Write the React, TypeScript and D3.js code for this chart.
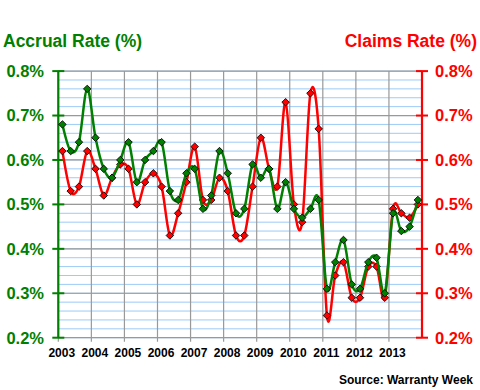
import React from "react";
import * as d3 from "d3";

// quarterly values, 2003 Q1 .. 2013 Q4
const years = [2003, 2004, 2005, 2006, 2007, 2008, 2009, 2010, 2011, 2012, 2013];
const accrualRate = [
  0.68, 0.62, 0.64, 0.76,
  0.65, 0.58, 0.56, 0.60,
  0.64, 0.55, 0.60, 0.62,
  0.64, 0.53, 0.51, 0.57,
  0.58, 0.49, 0.52, 0.62,
  0.57, 0.48, 0.49, 0.59,
  0.56, 0.58, 0.49, 0.55,
  0.49, 0.47, 0.49, 0.51,
  0.31, 0.37, 0.42, 0.32,
  0.31, 0.37, 0.38, 0.30,
  0.48, 0.44, 0.45, 0.51,
];
const claimsRate = [
  0.62, 0.53, 0.54, 0.62,
  0.58, 0.52, 0.56, 0.59,
  0.58, 0.50, 0.55, 0.57,
  0.54, 0.43, 0.48, 0.55,
  0.63, 0.51, 0.51, 0.56,
  0.53, 0.43, 0.43, 0.54,
  0.65, 0.58, 0.54, 0.73,
  0.50, 0.46, 0.75, 0.67,
  0.25, 0.34, 0.37, 0.29,
  0.29, 0.36, 0.36, 0.29,
  0.49, 0.48, 0.47, 0.50,
];
const yTicks = [0.2, 0.3, 0.4, 0.5, 0.6, 0.7, 0.8];

const GREEN = "#008000";
const RED = "#ff0000";
const FONT = "'Liberation Sans', Arial, sans-serif";

const App = () => {
  const x = d3.scaleLinear().domain([2003, 2014]).range([58.3, 422]);
  const y = d3.scaleLinear().domain([0.2, 0.8]).range([337.7, 71.1]);

  const quarterX = (i: number) => x(years[0] + (i + 0.5) / 4);

  const line = d3
    .line<number>()
    .x((_, i) => quarterX(i))
    .y((d) => y(d))
    .curve(d3.curveCardinal.tension(0));

  const diamond = d3.symbol(d3.symbolSquare, 28)() as string;
  const minorTicks = d3.range(0.2, 0.8001, 0.02);
  const [x0, x1] = x.range();
  const [yb, yt] = y.range();

  const markers = (data: number[], color: string) =>
    data.map((d, i) => (
      <path
        key={i}
        d={diamond}
        transform={`translate(${quarterX(i)},${y(d)}) rotate(45)`}
        fill={color}
        stroke="#000"
        strokeWidth={0.8}
      />
    ));

  return (
    <svg
      width={480}
      height={390}
      style={{ position: "absolute", left: 0, top: 0, background: "#fff" }}
      fontFamily={FONT}
      fontWeight="bold"
    >
      {/* grid */}
      {minorTicks.map((t, i) => (
        <line key={"m" + i} x1={x0} x2={x1} y1={y(t)} y2={y(t)} stroke="#9ccbf7" strokeWidth={1} />
      ))}
      {yTicks.map((t) => (
        <line key={"g" + t} x1={x0} x2={x1} y1={y(t)} y2={y(t)} stroke="#999" strokeWidth={1.2} />
      ))}
      {years.map((yr) => (
        <line key={"v" + yr} x1={x(yr)} x2={x(yr)} y1={yt} y2={yb + 4} stroke="#999" strokeWidth={1.2} />
      ))}

      {/* left axis */}
      <line x1={x0} x2={x0} y1={yt} y2={yb} stroke={GREEN} strokeWidth={2.2} />
      {yTicks.map((t) => (
        <g key={"l" + t}>
          <line x1={x0 - 6} x2={x0 + 6} y1={y(t)} y2={y(t)} stroke={GREEN} strokeWidth={2} />
          <text x={44} y={y(t)} dy="0.36em" textAnchor="end" fill={GREEN} fontSize={16.5}>
            {d3.format(".1f")(t) + "%"}
          </text>
        </g>
      ))}

      {/* right axis */}
      <line x1={x1} x2={x1} y1={yt} y2={yb} stroke={RED} strokeWidth={2.2} />
      {yTicks.map((t) => (
        <g key={"r" + t}>
          <line x1={x1 - 6} x2={x1 + 6} y1={y(t)} y2={y(t)} stroke={RED} strokeWidth={2} />
          <text x={435} y={y(t)} dy="0.36em" textAnchor="start" fill={RED} fontSize={16.5}>
            {d3.format(".1f")(t) + "%"}
          </text>
        </g>
      ))}

      {/* x labels */}
      {years.map((yr) => (
        <text key={"x" + yr} x={x(yr) + 3.5} y={357} textAnchor="middle" fill="#000" fontSize={12}>
          {yr}
        </text>
      ))}

      {/* series */}
      <path d={line(claimsRate) as string} fill="none" stroke={RED} strokeWidth={2.5} />
      {markers(claimsRate, RED)}
      <path d={line(accrualRate) as string} fill="none" stroke={GREEN} strokeWidth={2.5} />
      {markers(accrualRate, GREEN)}

      {/* titles */}
      <text x={3} y={47} fill={GREEN} fontSize={17.5}>
        Accrual Rate (%)
      </text>
      <text x={477} y={47} textAnchor="end" fill={RED} fontSize={17.5}>
        Claims Rate (%)
      </text>
      <text x={473} y={384} textAnchor="end" fill="#000" fontSize={12}>
        Source: Warranty Week
      </text>
    </svg>
  );
};

export default App;
